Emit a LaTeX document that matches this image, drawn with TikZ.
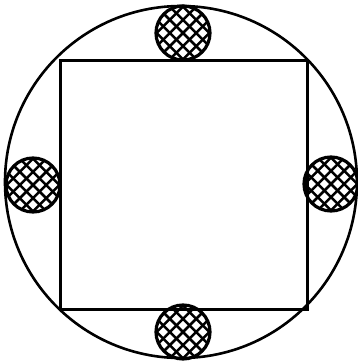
\documentclass[tikz,border=0pt]{standalone}
\tikzset{
  outline/.style={draw=black, line width=2.6pt},
  hatch/.style={draw=black, line width=2.5pt},
  hatchball/.pic={
    \begin{scope}
      \clip (0,0) circle (27);
      \foreach \k in {-4,...,4}{
        \draw[hatch] (\k*13.2-40,-40) -- ++(80,80);
        \draw[hatch] (\k*13.2-40,40) -- ++(80,-80);
      }
    \end{scope}
    \draw[outline, line width=3.2pt] (0,0) circle (27);
  }
}
\begin{document}
\begin{tikzpicture}[x=1pt,y=-1pt]
  \useasboundingbox (0,0) rectangle (358,362);
  \draw[outline, line width=2.6pt] (181,182) circle (176);
  \draw[outline, line width=3pt] (60,60) rectangle (307,309);
  \pic at (183,33) {hatchball};
  \pic at (33,185) {hatchball};
  \pic at (331,184) {hatchball};
  \pic at (183,332) {hatchball};
\end{tikzpicture}
\end{document}
